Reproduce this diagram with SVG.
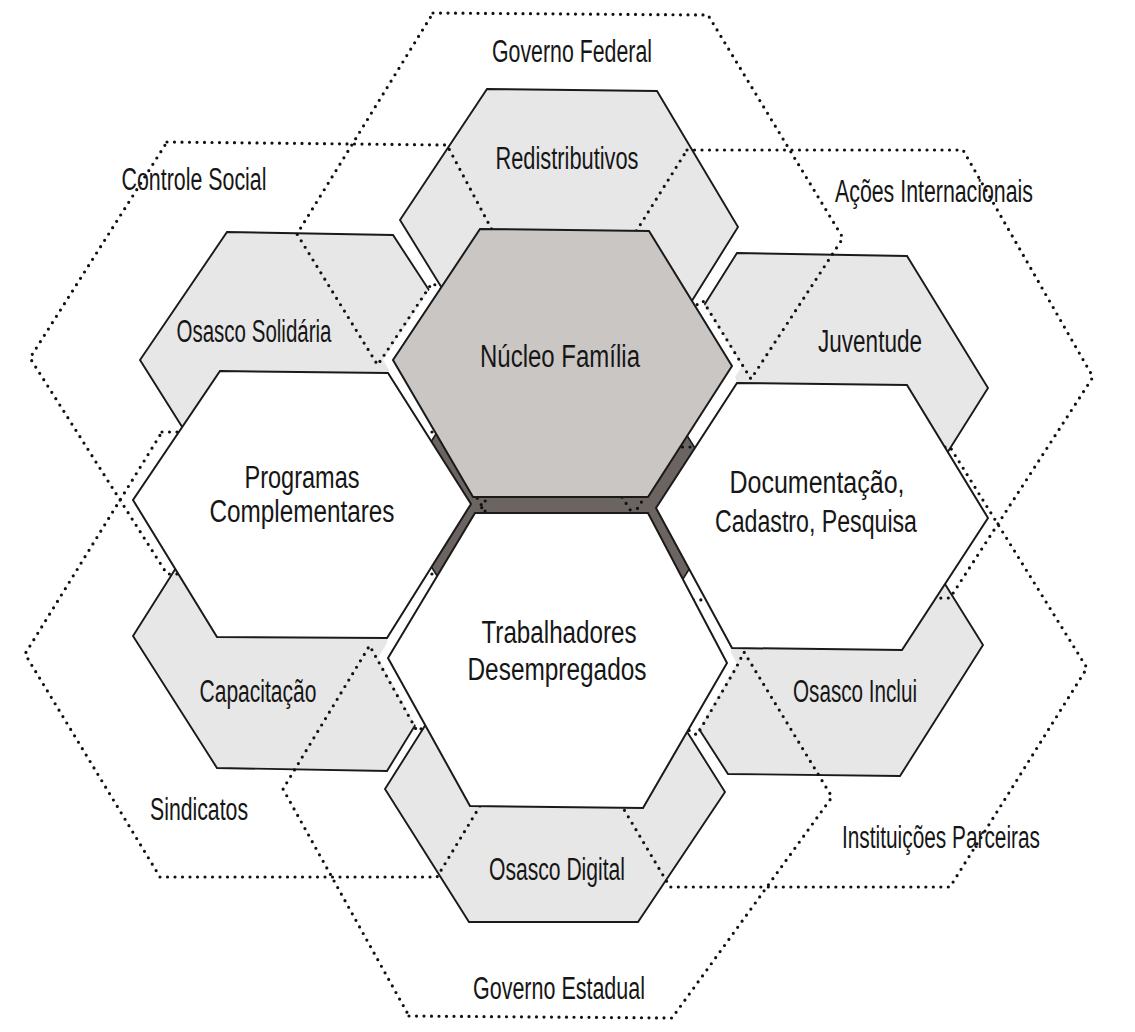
<svg xmlns="http://www.w3.org/2000/svg" width="1135" height="1032" viewBox="0 0 1135 1032">
<defs>
<style>
.cell{fill:#e7e7e7;stroke:#1a1a1a;stroke-width:1.9;stroke-linejoin:miter}
.main{fill:#ffffff;stroke:#1a1a1a;stroke-width:2;stroke-linejoin:miter}
.core{fill:#cac6c4;stroke:#1a1a1a;stroke-width:2;stroke-linejoin:miter}
.halo{fill:#ffffff;stroke:#ffffff;stroke-width:17;stroke-linejoin:miter}
.gap{fill:#ffffff;stroke:none}
.dark{fill:#6b6461;stroke:#1a1a1a;stroke-width:1.6}
.dot{fill:none;stroke:#111111;stroke-width:3.2;stroke-dasharray:0 7.5;stroke-linecap:round;stroke-linejoin:round}
text{font-family:'Liberation Sans',Arial,sans-serif;font-size:31px;fill:#161616;text-anchor:middle}
</style>
</defs>
<rect width="1135" height="1032" fill="#ffffff"/>

<g id="side-cells">
  <g id="node-osasco-solidaria">
    <polygon class="cell" points="227,232 393,235 478,365 393,497 225,495 140,360"/>
    <text x="254" y="342" textLength="155" lengthAdjust="spacingAndGlyphs">Osasco Solidária</text>
  </g>
  <g id="node-juventude">
    <polygon class="cell" points="737,253 907,256 988,388 905,520 735,520 652,388"/>
    <text x="870" y="352" textLength="104" lengthAdjust="spacingAndGlyphs">Juventude</text>
  </g>
  <g id="node-capacitacao">
    <polygon class="cell" points="217,503 387,503 470,636 387,771 217,768 133,636"/>
    <text x="258" y="702" textLength="117" lengthAdjust="spacingAndGlyphs">Capacitação</text>
  </g>
  <g id="node-osasco-inclui">
    <polygon class="cell" points="728,512 900,512 983,645 900,776 728,774 645,645"/>
    <text x="855" y="702" textLength="124" lengthAdjust="spacingAndGlyphs">Osasco Inclui</text>
  </g>
</g>

<g id="channels">
  <polygon class="gap" points="480,229 649,231 732,366 737,383 907,385 988,518 902,650 732,648 727,663 643,808 470,806 388,658 387,638 217,637 133,500 220,371 388,373 393,360"/>
  <polygon class="halo" points="480,229 649,231 732,366 648,497 473,497 393,360"/>
  <polygon class="halo" points="475,513 648,513 727,663 643,808 470,806 388,658"/>
</g>

<g id="center-cells">
  <g id="node-redistributivos">
    <polygon class="cell" points="487,89 657,91 738,227 655,360 485,358 400,220"/>
    <text x="567" y="169" textLength="143" lengthAdjust="spacingAndGlyphs">Redistributivos</text>
  </g>
  <g id="node-osasco-digital">
    <polygon class="cell" points="469,656 640,657 725,792 638,922 469,922 385,789"/>
    <text x="557" y="880" textLength="136" lengthAdjust="spacingAndGlyphs">Osasco Digital</text>
  </g>
  <polygon id="core-junction" class="dark" points="476,370 646,370 730,504 646,638 476,638 392,504"/>
</g>

<g id="regions">
  <g id="region-governo-federal">
    <path class="dot" d="M433,13 L708,15 L843,238 L751,379 L703,301 L680,315 L460,300 L432,283 L377.6,365 L297,234 Z"/>
    <text x="572" y="62" textLength="160" lengthAdjust="spacingAndGlyphs">Governo Federal</text>
  </g>
  <g id="region-controle-social">
    <path class="dot" d="M167,142 L447,145 L560,358 L447,574 L167,574 L30,358 Z"/>
    <text x="194" y="190" textLength="145" lengthAdjust="spacingAndGlyphs">Controle Social</text>
  </g>
  <g id="region-acoes-internacionais">
    <path class="dot" d="M687,150 L963,150 L1093,377 L950,598 L688,600 L545,377 Z"/>
    <text x="934" y="202" textLength="198" lengthAdjust="spacingAndGlyphs">Ações Internacionais</text>
  </g>
  <g id="region-sindicatos">
    <path class="dot" d="M162,432 L437,432 L572,654 L437,877 L160,877 L25,654 Z"/>
    <text x="199" y="820" textLength="98" lengthAdjust="spacingAndGlyphs">Sindicatos</text>
  </g>
  <g id="region-instituicoes-parceiras">
    <path class="dot" d="M675,447 L950,447 L1087,668 L950,887 L670,887 L540,668 Z"/>
    <text x="941" y="848" textLength="198" lengthAdjust="spacingAndGlyphs">Instituições Parceiras</text>
  </g>
  <g id="region-governo-estadual">
    <path class="dot" d="M409,1016 L672,1018 L832,797 L744,652 L736,668 L697,735 L685,728 L430,724 L417,731 L369.6,645.6 L283,789 Z"/>
    <text x="559" y="999" textLength="172" lengthAdjust="spacingAndGlyphs">Governo Estadual</text>
  </g>
</g>

<g id="main-cells">
  <g id="node-programas-complementares">
    <polygon class="main" points="220,371 388,373 471,504 387,638 217,637 133,500"/>
    <text x="302" y="488" textLength="115" lengthAdjust="spacingAndGlyphs">Programas</text>
    <text x="302" y="522" textLength="185" lengthAdjust="spacingAndGlyphs">Complementares</text>
  </g>
  <g id="node-documentacao">
    <polygon class="main" points="737,383 907,385 988,518 902,650 732,648 656,508"/>
    <text x="817" y="493" textLength="175" lengthAdjust="spacingAndGlyphs">Documentação,</text>
    <text x="816" y="532" textLength="202" lengthAdjust="spacingAndGlyphs">Cadastro, Pesquisa</text>
  </g>
  <g id="node-nucleo-familia">
    <polygon class="core" points="480,229 649,231 732,366 648,497 473,497 393,360"/>
    <text x="560" y="367" textLength="160" lengthAdjust="spacingAndGlyphs">Núcleo Família</text>
  </g>
  <g id="node-trabalhadores">
    <polygon class="main" points="475,513 648,513 727,663 643,808 470,806 388,658"/>
    <text x="559" y="643" textLength="155" lengthAdjust="spacingAndGlyphs">Trabalhadores</text>
    <text x="557" y="680" textLength="179" lengthAdjust="spacingAndGlyphs">Desempregados</text>
  </g>
</g>
</svg>
